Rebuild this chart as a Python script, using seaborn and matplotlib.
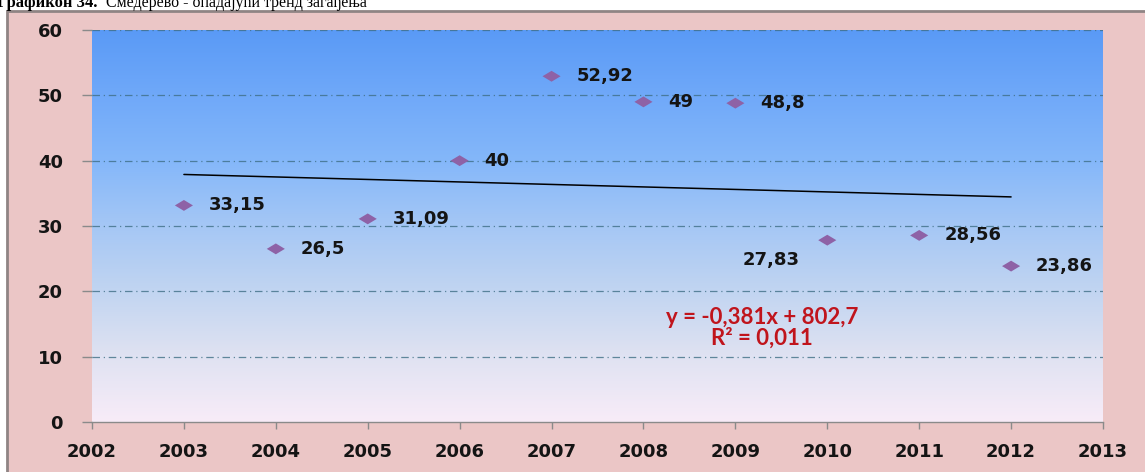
import numpy as np
import pandas as pd
import matplotlib
matplotlib.use("Agg")
import matplotlib.pyplot as plt
from matplotlib.colors import LinearSegmentedColormap
from matplotlib.patches import Rectangle
from matplotlib.path import Path
import seaborn as sns

# Annual pollution values, Smederevo
years = [2003, 2004, 2005, 2006, 2007, 2008, 2009, 2010, 2011, 2012]
values = [33.15, 26.5, 31.09, 40, 52.92, 49, 48.8, 27.83, 28.56, 23.86]
labels = ["33,15", "26,5", "31,09", "40", "52,92", "49", "48,8", "27,83", "28,56", "23,86"]
x_ticks = list(range(2002, 2014))
y_ticks = [0, 10, 20, 30, 40, 50, 60]
equation = "y = -0,381x + 802,7\nR² = 0,011"

df = pd.DataFrame({"year": years, "value": values})

sns.set_theme(style="white")
plt.rcParams["font.family"] = ["DejaVu Sans"]

W, H = 1145, 472
fig = plt.figure(figsize=(W / 100, H / 100), dpi=100)
fig.patch.set_facecolor("white")

# pink frame around the chart, drawn on a background axes
bg = fig.add_axes([0, 0, 1, 1], zorder=-1)
bg.set_xlim(0, W)
bg.set_ylim(H, 0)
bg.axis("off")
bg.add_patch(Rectangle((7, 11), W + 20, H + 20, facecolor="#ebc6c6",
                       edgecolor="#8f8484", linewidth=2))

# caption, partly cut off by the top edge
fig.text(-3 / W, 1 - 7 / H, "Графикон 34.", family="Liberation Serif", weight="bold",
         fontsize=12, va="baseline", ha="left", color="black")
fig.text(106 / W, 1 - 7 / H, "Смедерево - опадајући тренд загађења", family="Liberation Serif",
         fontsize=11.4, va="baseline", ha="left", color="black")

ax = fig.add_axes([92 / W, 1 - 422 / H, (1103 - 92) / W, (422 - 30) / H], zorder=1)
ax.set_xlim(2002, 2013)
ax.set_ylim(0, 60)

# vertical gradient fill of the plot area
grad = LinearSegmentedColormap.from_list(
    "plotbg", [(0.0, "#f8ecf8"), (0.17, "#dfe2f2"), (0.33, "#c2d5f1"), (0.5, "#a5c7f5"),
               (0.67, "#84b7fa"), (0.83, "#70a9f9"), (1.0, "#5a9af6")])
ax.imshow(np.linspace(0, 1, 256).reshape(-1, 1), cmap=grad, aspect="auto",
          extent=(2002, 2013, 0, 60), origin="lower", zorder=0)

for yv in y_ticks[1:]:
    ax.axhline(yv, color="#3f6f86", lw=0.9, ls=(0, (6, 3, 1, 3)), alpha=0.8, zorder=1)

# linear trend line
sns.regplot(data=df, x="year", y="value", scatter=False, ci=None, truncate=True,
            line_kws=dict(color="black", lw=1.1, zorder=2), ax=ax)

diamond = Path([(-1, 0), (0, 0.6), (1, 0), (0, -0.6), (-1, 0)],
               [Path.MOVETO, Path.LINETO, Path.LINETO, Path.LINETO, Path.CLOSEPOLY])
sns.scatterplot(data=df, x="year", y="value", marker=diamond, s=170, color="#8e62a6",
                edgecolor="none", ax=ax, zorder=3)

for yr, v, lab in zip(years, values, labels):
    if yr == 2010:
        ax.annotate(lab, (yr, v), xytext=(-20, -14), textcoords="offset points",
                    ha="right", va="center", fontsize=13, weight="bold", color="#141414")
    else:
        ax.annotate(lab, (yr, v), xytext=(18, 0), textcoords="offset points",
                    ha="left", va="center", fontsize=13, weight="bold", color="#141414")

ax.text(2009.29, 14.4, equation, ha="center", va="center", family="Lato",
        weight="bold", fontsize=16, color="#c0141c", linespacing=0.95)

ax.set_xticks(x_ticks)
ax.set_yticks(y_ticks)
ax.set_xticklabels([str(t) for t in x_ticks])
ax.set_yticklabels([str(t) for t in y_ticks])
ax.tick_params(axis="x", length=5, width=1, color="#8a8a8a", pad=10, labelsize=13,
               labelcolor="#141414", bottom=True)
ax.tick_params(axis="y", length=7, width=1, color="#8a8a8a", pad=14, labelsize=13,
               labelcolor="#141414", left=True)
for lab in ax.get_xticklabels() + ax.get_yticklabels():
    lab.set_fontweight("bold")
ax.set_xlabel("")
ax.set_ylabel("")

for side in ["top", "right", "left"]:
    ax.spines[side].set_visible(False)
ax.spines["bottom"].set_color("#8a8a8a")
ax.spines["bottom"].set_linewidth(1)

fig.savefig("out.png", dpi=100, facecolor=fig.get_facecolor())
